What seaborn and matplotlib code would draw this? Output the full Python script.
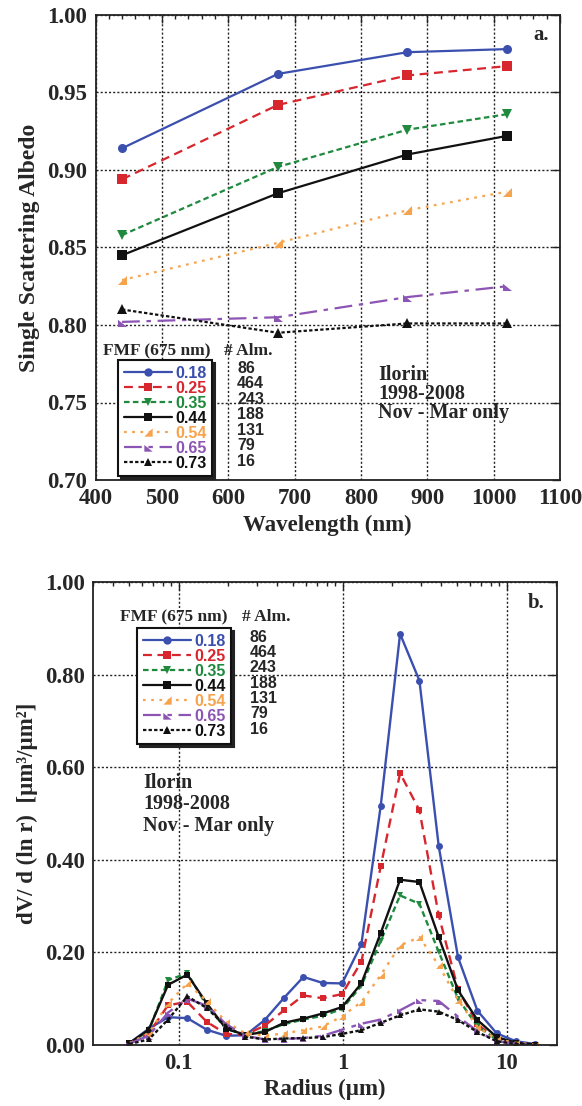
import numpy as np
import pandas as pd
import matplotlib
matplotlib.use("Agg")
import matplotlib.pyplot as plt
from matplotlib.lines import Line2D
from matplotlib.path import Path
from matplotlib.ticker import MultipleLocator, FixedLocator, LogLocator, NullFormatter, FormatStrFormatter
import seaborn as sns

# ---- data ----
fmf = ['0.18', '0.25', '0.35', '0.44', '0.54', '0.65', '0.73']
n_alm = ['86', '464', '243', '188', '131', '79', '16']

wavelength = [440, 675, 870, 1020]
ssa_018 = [0.914, 0.962, 0.976, 0.978]
ssa_025 = [0.894, 0.942, 0.961, 0.967]
ssa_035 = [0.858, 0.902, 0.926, 0.936]
ssa_044 = [0.845, 0.885, 0.910, 0.922]
ssa_054 = [0.829, 0.853, 0.874, 0.886]
ssa_065 = [0.802, 0.805, 0.818, 0.825]
ssa_073 = [0.810, 0.795, 0.801, 0.801]

radius = [0.050, 0.0656, 0.0861, 0.1129, 0.1482, 0.1944, 0.2551, 0.3347,
          0.4392, 0.5762, 0.7560, 0.9919, 1.3014, 1.7075, 2.2403, 2.9394,
          3.8566, 5.0600, 6.6389, 8.7105, 11.4286, 14.9950]
dv_018 = [0.004, 0.035, 0.060, 0.058, 0.033, 0.020, 0.021, 0.054, 0.102, 0.147, 0.134,
          0.133, 0.218, 0.517, 0.888, 0.787, 0.429, 0.189, 0.074, 0.025, 0.008, 0.002]
dv_025 = [0.003, 0.025, 0.086, 0.093, 0.050, 0.024, 0.022, 0.042, 0.075, 0.107, 0.101,
          0.110, 0.180, 0.386, 0.587, 0.507, 0.280, 0.120, 0.045, 0.012, 0.004, 0.001]
dv_035 = [0.004, 0.030, 0.140, 0.155, 0.085, 0.035, 0.022, 0.030, 0.045, 0.055, 0.063,
          0.078, 0.128, 0.225, 0.323, 0.305, 0.201, 0.100, 0.040, 0.012, 0.004, 0.001]
dv_044 = [0.004, 0.033, 0.130, 0.152, 0.090, 0.035, 0.022, 0.028, 0.048, 0.057, 0.068,
          0.082, 0.133, 0.242, 0.357, 0.352, 0.233, 0.118, 0.054, 0.017, 0.005, 0.001]
dv_054 = [0.004, 0.025, 0.090, 0.133, 0.095, 0.050, 0.025, 0.020, 0.025, 0.032, 0.040,
          0.062, 0.093, 0.151, 0.215, 0.233, 0.172, 0.097, 0.039, 0.012, 0.005, 0.001]
dv_065 = [0.003, 0.020, 0.070, 0.100, 0.085, 0.045, 0.020, 0.012, 0.013, 0.015, 0.020,
          0.033, 0.046, 0.055, 0.075, 0.097, 0.095, 0.061, 0.030, 0.008, 0.003, 0.001]
dv_073 = [0.002, 0.012, 0.055, 0.105, 0.080, 0.040, 0.018, 0.012, 0.014, 0.015, 0.017,
          0.024, 0.032, 0.048, 0.064, 0.077, 0.072, 0.054, 0.028, 0.008, 0.002, 0.001]

ssa_all = [ssa_018, ssa_025, ssa_035, ssa_044, ssa_054, ssa_065, ssa_073]
dv_all = [dv_018, dv_025, dv_035, dv_044, dv_054, dv_065, dv_073]

# ---- styles ----
colors = ['#3b4fae', '#d8262e', '#1f8a3e', '#111111', '#f6a34e', '#8c55b4', '#111111']
lstyles = ['-', (0, (4, 2.5)), (0, (2.5, 1.5)), '-', (0, (1.2, 2.5)), (0, (8, 3, 2, 3)), (0, (1.5, 1))]
half_r = Path([(-1, -1), (1, -1), (1, 1), (-1, -1)])
half_l = Path([(-1, -1), (1, -1), (-1, 0.6), (-1, -1)])
markers = ['o', 's', 'v', 's', half_r, half_l, '^']

sns.set_style('white')
plt.rcParams['font.family'] = ['Liberation Serif', 'DejaVu Serif']
plt.rcParams['font.weight'] = 'bold'
plt.rcParams['axes.labelweight'] = 'bold'

serif = ['Liberation Serif', 'DejaVu Serif']
sans = ['Liberation Sans', 'DejaVu Sans']

W, H = 582, 1106
fig = plt.figure(figsize=(W / 100, H / 100), dpi=100)
ax_a = fig.add_axes([95.5 / W, 1 - 480 / H, 464.5 / W, 465 / H])
ax_b = fig.add_axes([93 / W, 1 - 1045 / H, 464 / W, 463 / H])

df_a = pd.DataFrame({'wl': np.tile(wavelength, len(fmf)),
                     'ssa': np.concatenate(ssa_all),
                     'fmf': np.repeat(fmf, len(wavelength))})
df_b = pd.DataFrame({'r': np.tile(radius, len(fmf)),
                     'dv': np.concatenate(dv_all),
                     'fmf': np.repeat(fmf, len(radius))})

for i, f in enumerate(fmf):
    sns.lineplot(data=df_a[df_a['fmf'] == f], x='wl', y='ssa', ax=ax_a, color=colors[i],
                 linestyle=lstyles[i], marker=markers[i], markersize=6.5, markeredgewidth=0,
                 linewidth=1.6, errorbar=None, legend=False)
    sns.lineplot(data=df_b[df_b['fmf'] == f], x='r', y='dv', ax=ax_b, color=colors[i],
                 linestyle=lstyles[i], marker=markers[i], markersize=5, markeredgewidth=0,
                 linewidth=1.7, errorbar=None, legend=False)

def style_axes(ax):
    for s in ax.spines.values():
        s.set_linewidth(1.3)
        s.set_color('#222222')
    ax.tick_params(which='both', direction='in', top=True, right=True, labelsize=16.5,
                   width=1.0, color='#222222')
    ax.tick_params(which='major', length=6, pad=6)
    ax.tick_params(which='minor', length=3)
    ax.grid(True, which='major', linestyle=(0, (1.5, 1.5)), color='#222222', linewidth=1.0)
    for lab in ax.get_xticklabels() + ax.get_yticklabels():
        lab.set_fontweight('bold')
        lab.set_family(serif)

# panel a axes
ax_a.set_xlim(400, 1100)
ax_a.set_ylim(0.70, 1.00)
ax_a.xaxis.set_major_locator(MultipleLocator(100))
ax_a.xaxis.set_minor_locator(MultipleLocator(20))
ax_a.yaxis.set_major_locator(MultipleLocator(0.05))
ax_a.yaxis.set_major_formatter(FormatStrFormatter('%.2f'))
ax_a.set_xlabel('Wavelength (nm)', fontsize=16.5, fontweight='bold', labelpad=4)
ax_a.set_ylabel('Single Scattering Albedo', fontsize=17, fontweight='bold', labelpad=5)
style_axes(ax_a)

# panel b axes
ax_b.set_xscale('log')
ax_b.set_xlim(0.03, 20.3)
ax_b.set_ylim(0.0, 1.0)
ax_b.xaxis.set_major_locator(FixedLocator([0.1, 1, 10]))
ax_b.xaxis.set_major_formatter(FormatStrFormatter('%g'))
ax_b.xaxis.set_minor_locator(LogLocator(base=10, subs=np.arange(2, 10)))
ax_b.xaxis.set_minor_formatter(NullFormatter())
ax_b.yaxis.set_major_locator(MultipleLocator(0.2))
ax_b.yaxis.set_major_formatter(FormatStrFormatter('%.2f'))
ax_b.set_xlabel('Radius (µm)', fontsize=16.5, fontweight='bold', labelpad=3)
ax_b.set_ylabel('dV/ d (ln r)  [µm³/µm²]', fontsize=16.5, fontweight='bold', labelpad=5)
style_axes(ax_b)

def add_legend(ax, left, bottom, width, height, box_x, box_y):
    handles = [Line2D([], [], color=colors[i], linestyle=lstyles[i], marker=markers[i],
                      markersize=6, markeredgewidth=0, linewidth=1.6) for i in range(len(fmf))]
    leg = ax.legend(handles, fmf, loc='upper left',
                    bbox_to_anchor=((box_x - left) / width, (bottom - box_y) / height),
                    borderaxespad=0, frameon=True, fancybox=False,
                    shadow={'color': '#222222', 'alpha': 1.0},
                    prop={'family': sans, 'size': 11.5}, labelcolor='linecolor',
                    handlelength=3.0, handletextpad=0.25, labelspacing=0.0,
                    borderpad=0.35, numpoints=1)
    leg.get_frame().set_edgecolor('#111111')
    leg.get_frame().set_linewidth(1.5)
    leg.get_frame().set_alpha(1.0)
    return leg

def ftext(x, y, s, **kw):
    fig.text(x / W, 1 - y / H, s, va='center', ha='left', **kw)

# panel a annotations
add_legend(ax_a, 95.5, 480, 464.5, 465, 118, 360)
ftext(103, 351, 'FMF (675 nm)', family=serif, fontweight='bold', fontsize=12.5)
ftext(224, 351, '# Alm.', family=serif, fontweight='bold', fontsize=12.5)
for i, n in enumerate(n_alm):
    ftext(237, 368.3 + 15.45 * i, n, family=sans, fontsize=11.5)
for i, s in enumerate(['Ilorin', '1998-2008', 'Nov - Mar only']):
    ftext(378, 375 + 19.2 * i, s, family=serif, fontweight='bold', fontsize=14.5)
ftext(533, 35, 'a.', family=serif, fontweight='bold', fontsize=15)

# panel b annotations
add_legend(ax_b, 93, 1045, 464, 463, 137, 628)
ftext(120, 617, 'FMF (675 nm)', family=serif, fontweight='bold', fontsize=12.5)
ftext(242, 617, '# Alm.', family=serif, fontweight='bold', fontsize=12.5)
for i, n in enumerate(n_alm):
    ftext(250, 637.3 + 15.3 * i, n, family=sans, fontsize=11.5)
for i, s in enumerate(['Ilorin', '1998-2008', 'Nov - Mar only']):
    ftext(143, 783 + 21.3 * i, s, family=serif, fontweight='bold', fontsize=14.5)
ftext(528, 603, 'b.', family=serif, fontweight='bold', fontsize=15)

fig.savefig('out.png', dpi=100)
